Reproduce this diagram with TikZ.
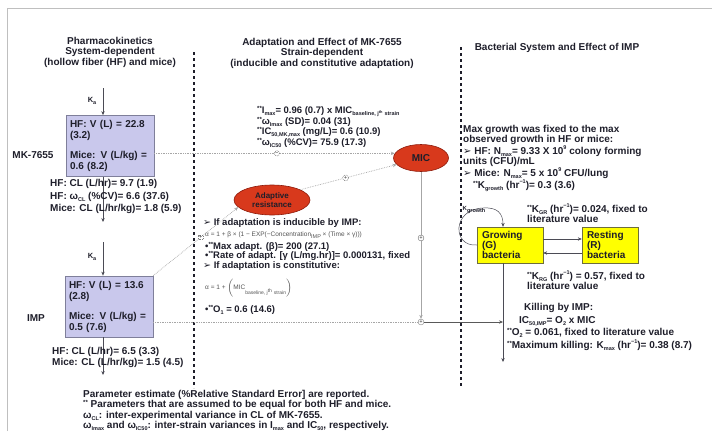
\documentclass[tikz,border=0pt]{standalone}
\usepackage{fontspec}
\setmainfont{Liberation Sans}
\newfontfamily\dvsans{DejaVu Sans}
\usetikzlibrary{arrows.meta,shapes.geometric}
\definecolor{ink}{HTML}{1E1E2A}
\definecolor{pkfill}{HTML}{C9C8EC}
\definecolor{pkline}{HTML}{7F7F9A}
\definecolor{redfill}{HTML}{D8391C}
\definecolor{redline}{HTML}{8E1B0B}
\definecolor{yelfill}{HTML}{FFFF00}
\definecolor{yelline}{HTML}{6E6E3C}
\newcommand{\lo}[1]{\raisebox{-0.4ex}{\fontsize{5.5}{6}\selectfont #1}}
\newcommand{\hi}[1]{\raisebox{0.9ex}{\fontsize{5.5}{6}\selectfont #1}}
\newcommand{\dstar}{\raisebox{0.6ex}{\fontsize{6}{6}\selectfont **}}
\newcommand{\tri}{{\dvsans ➢}}
\begin{document}
\begin{tikzpicture}[x=1pt,y=-1pt,>={Stealth[length=4pt,width=3.4pt]},
every node/.style={font=\fontsize{10}{10}\selectfont\bfseries,text=ink,inner sep=0pt},
txt/.style={align=left,anchor=north west},
head/.style={align=center,anchor=north,font=\fontsize{10}{10.5}\selectfont\bfseries},
vbox/.style={draw=pkline,fill=pkfill,text width=80pt,align=left,inner xsep=4pt,inner ysep=5pt,minimum height=61pt,font=\fontsize{10}{11}\selectfont\bfseries},
oval/.style={ellipse,draw=redline,fill=redfill,line width=.6pt,align=center},
bact/.style={draw=yelline,fill=yelfill,align=left,inner xsep=5pt,minimum height=36pt},
sgn/.style={circle,draw=gray,fill=white,inner sep=.6pt,font=\fontsize{5}{5}\selectfont\bfseries,text=gray!70!black},
link/.style={gray!70,densely dotted,line width=.7pt},
flow/.style={->,ink!80,line width=.5pt},
sep/.style={ink,line width=1.8pt,dash pattern=on 3pt off 3pt},
mid/.style={anchor=west,font=\fontsize{9.5}{10}\selectfont\bfseries},
small/.style={font=\fontsize{6.5}{7}\selectfont,text=gray!65!black}]
\useasboundingbox (0,0) rectangle (712,431);
\clip (0,0) rectangle (712,431);
\draw[gray!50,line width=.8pt] (7,431) -- (7,8) -- (712,8);

% column heads
\node[head] (hpk) at (110,37) {Pharmacokinetics\\System-dependent\\(hollow fiber (HF) and mice)};
\node[head] (had) at (322,38) {Adaptation and Effect of MK-7655\\Strain-dependent\\(inducible and constitutive adaptation)};
\node[head] (hbs) at (557,43) {Bacterial System and Effect of IMP};
\coordinate (s1a) at (194,52); \coordinate (s1b) at (194,388);
\coordinate (s2a) at (461,47); \coordinate (s2b) at (461,388);
\draw[sep] (s1a) -- (s1b); \draw[sep] (s2a) -- (s2b);

% pharmacokinetics
\node[vbox] (mkv) at (110,146) {HF: V (L) = 22.8\\(3.2)\\[9pt]Mice: V (L/kg) =\\0.6 (8.2)};
\node (mklab) at (33,155) {MK-7655};
\coordinate (mkka) at (103,88); \coordinate (mkend) at (103,222);
\draw[flow] (mkka) -- (mkka |- mkv.north);
\node[font=\fontsize{7.5}{8}\selectfont\bfseries] (mkkal) at (92,101) {K\lo{a}};
\draw[flow] (mkv.south -| mkend) -- (mkend);
\node[txt,font=\fontsize{10}{12.5}\selectfont\bfseries] (mkcl) at (50,179.5) {HF: CL (L/hr)= 9.7 (1.9)\\HF: ω\lo{CL} (\%CV)= 6.6 (37.6)\\Mice: CL (L/hr/kg)= 1.8 (5.9)};

\node[vbox] (impv) at (109,306.5) {HF: V (L) = 13.6\\(2.8)\\[9pt]Mice: V (L/kg) =\\0.5 (7.6)};
\node (implab) at (36,318) {IMP};
\coordinate (impka) at (103,242); \coordinate (impend) at (103,375);
\draw[flow] (impka) -- (impka |- impv.north);
\node[font=\fontsize{7.5}{8}\selectfont\bfseries] (impkal) at (92,257) {K\lo{a}};
\draw[flow] (impv.south -| impend) -- (impend);
\node[txt,font=\fontsize{10}{11}\selectfont\bfseries] (impcl) at (52,347.5) {HF: CL (L/hr)= 6.5 (3.3)\\Mice: CL (L/hr/kg)= 1.5 (4.5)};

% adaptation
\node[oval,minimum width=55pt,minimum height=27pt] (mic) at (421,158) {MIC};
\node[oval,minimum width=76pt,minimum height=30pt,font=\fontsize{8}{8.5}\selectfont\bfseries] (adapt) at (272,200) {Adaptive\\resistance};
\node[txt,font=\fontsize{9.5}{8.8}\selectfont\bfseries] (imax) at (257,106) {\dstar I\lo{max}= 0.96 (0.7) x MIC\lo{baseline, j\textsuperscript{th} strain}\\\dstar ω\lo{Imax} (SD)= 0.04 (31)\\\dstar IC\lo{50,MK,max} (mg/L)= 0.6 (10.9)\\\dstar ω\lo{IC50} (\%CV)= 75.9 (17.3)};
\node[mid] (ind) at (203,223) {\tri\ If adaptation is inducible by IMP:};
\node[anchor=west,small] (indf) at (205,235) {α = 1 + β × (1 − EXP(−Concentration\lo{IMP} × (Time × γ)))};
\node[mid] (maxa) at (205,247) {•\dstar Max adapt. (β)= 200 (27.1)};
\node[mid] (rate) at (205,256) {•\dstar Rate of adapt. [γ (L/mg.hr)]= 0.000131, fixed};
\node[mid] (con) at (203,266) {\tri\ If adaptation is constitutive:};
\node[anchor=west,small] (conf) at (205,288) {α = 1 + $\left(\rule[-6pt]{0pt}{15pt}\mbox{MIC}\raisebox{-5pt}{\fontsize{5}{6}\selectfont baseline, j\textsuperscript{th} strain}\right)$};
\node[mid] (o1) at (205,310) {•\dstar O\lo{1} = 0.6 (14.6)};

\draw[link,->] (mkv.east |- mic.170) -- node[sgn,pos=.51] (c1) {−} (mic.170);
\draw[link,->] (adapt.20) -- node[sgn,pos=.47] (c2) {+} (mic.195);
\draw[link,->] (impv.north east) -- node[sgn,rectangle,pos=.56] (c3) {+} (adapt.192);
\node[sgn] (jn) at (421,322) {+};
\draw[gray!70,->,line width=.5pt] (mic.south) -- node[sgn,pos=.45] (c4) {+} (jn.north);
\draw[link] (impv.east |- jn) -- (jn.west);

% bacteria
\node[txt,font=\fontsize{10}{9.3}\selectfont\bfseries] (nmax) at (463,125) {Max growth was fixed to the max\\observed growth in HF or mice:\\\tri\ HF: N\lo{max}= 9.33 X 10\hi{9} colony forming\\units (CFU)/mL\\\tri\ Mice: N\lo{max}= 5 x 10\hi{9} CFU/lung\\\quad\dstar K\lo{growth} (hr\hi{−1})= 0.3 (3.6)};
\node[bact,text width=56pt] (grow) at (510,245) {Growing\\(G)\\bacteria};
\node[bact,text width=46pt] (rest) at (610,245) {Resting\\(R)\\bacteria};
\coordinate (gdown) at (503,362); \coordinate (looptop) at (483,208);
\draw[flow] ([yshift=6pt]grow.east) -- ([yshift=6pt]rest.west);
\draw[flow] ([yshift=-8pt]rest.west) -- ([yshift=-8pt]grow.east);
\draw[flow] (grow.south -| gdown) -- (gdown);
\draw[flow] (grow.west) .. controls (452,247) and (452,209) .. (looptop) .. controls (497,207) and (503,213) .. (grow.north -| gdown);
\node[font=\fontsize{6}{6}\selectfont\bfseries] (kgl) at (474,210) {K\lo{growth}};
\draw[gray!70!black,->,line width=.5pt] (jn.east) -- (gdown |- jn);
\node[txt] (kgr) at (527,204) {\dstar K\lo{GR} (hr\hi{−1})= 0.024, fixed to\\literature value};
\node[txt] (krg) at (527,270.5) {\dstar K\lo{RG} (hr\hi{−1}) = 0.57, fixed to\\literature value};
\node[anchor=west] (killt) at (524,308) {Killing by IMP:};
\node[anchor=west] (killic) at (519,321) {IC\lo{50,IMP}= O\lo{2} x MIC};
\node[anchor=west] (killo) at (507,333) {\dstar O\lo{2} = 0.061, fixed to literature value};
\node[anchor=west] (killk) at (507,345) {\dstar Maximum killing: K\lo{max} (hr\hi{−1})= 0.38 (8.7)};

% notes
\node[txt,font=\fontsize{10}{8.3}\selectfont\bfseries] (notes) at (83,390) {Parameter estimate (\%Relative Standard Error] are reported.\\\dstar\ Parameters that are assumed to be equal for both HF and mice.\\ω\lo{CL}: inter-experimental variance in CL of MK-7655.\\ω\lo{Imax} and ω\lo{IC50}: inter-strain variances in I\lo{max} and IC\lo{50}, respectively.};
\end{tikzpicture}
\end{document}
